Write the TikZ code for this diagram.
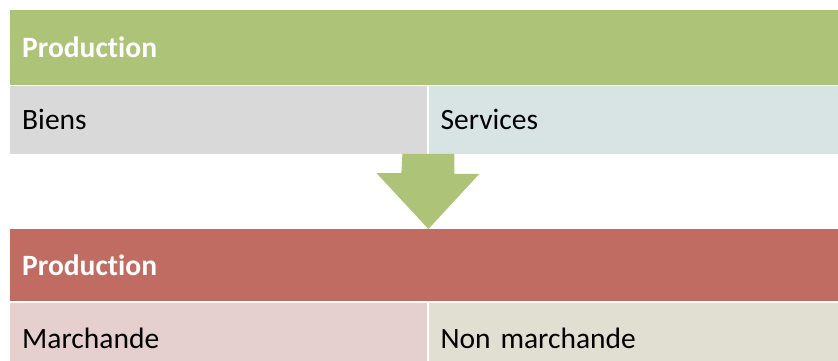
\documentclass[tikz,border=0pt]{standalone}
\usepackage{fontspec}
\setmainfont{Carlito}[Ligatures=NoCommon]
\usepackage{tikz}
\usetikzlibrary{positioning}

\definecolor{titlegreen}{RGB}{173,195,120}
\definecolor{titlered}{RGB}{192,108,98}
\definecolor{cellgray}{RGB}{217,217,217}
\definecolor{cellblue}{RGB}{216,228,227}
\definecolor{cellpink}{RGB}{230,207,207}
\definecolor{cellbeige}{RGB}{225,223,209}

\begin{document}
\begin{tikzpicture}[x=1pt, y=1pt, node distance = 0pt, font=\fontsize{29.5}{33}\selectfont]
\useasboundingbox (0,0) rectangle (838,360);
\tikzset{
  bar/.style={rectangle, anchor=north west, text=white, font=\fontsize{29.5}{33}\selectfont\bfseries, minimum width=828pt, text width=804pt, inner xsep=12pt, align=left},
  cell/.style={rectangle, anchor=north west, text=black, inner xsep=12pt, align=left}
}
\node [bar, fill=titlegreen, minimum height=75pt] (prodtop) at (10,350) {Production};
\node [cell, fill=cellgray, minimum width=417pt, text width=393pt, minimum height=68pt, below=0pt of prodtop.south west, anchor=north west] (biens) {Biens};
\node [cell, fill=cellblue, minimum width=410pt, text width=386pt, minimum height=68pt, right=1pt of biens.north east, anchor=north west] (services) {Services};

\node [bar, fill=titlered, minimum height=72pt] (prodbot) at (10,131) {Production};
\node [cell, fill=cellpink, minimum width=417pt, text width=393pt, minimum height=72pt, below=1pt of prodbot.south west, anchor=north west] (marchande) {Marchande};
\node [cell, fill=cellbeige, minimum width=410pt, text width=386pt, minimum height=72pt, right=1pt of marchande.north east, anchor=north west] (nonmarchande) {Non marchande};

% block arrow from the first table to the second
\coordinate (tip) at (prodbot.north west -| biens.south east);
\fill [titlegreen] ([xshift=-25pt]biens.south east) -- ([xshift=27pt]biens.south east) -- ++(0,-20) -- ++(25,0)
  -- ([xshift=1pt]tip) -- ++(-52,56) -- ++(25,0) -- cycle;
\end{tikzpicture}
\end{document}
